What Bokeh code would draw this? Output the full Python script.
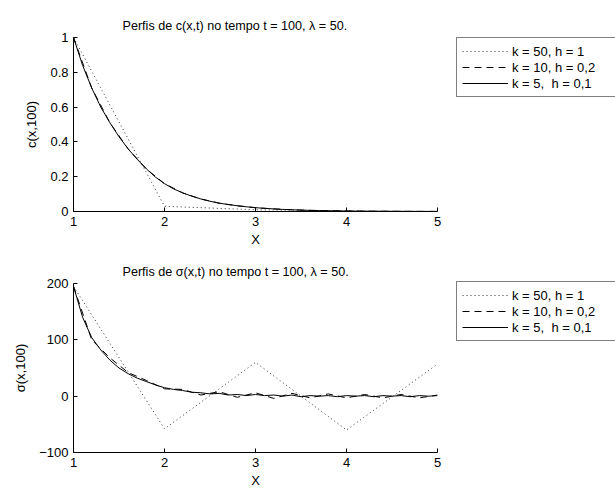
from bokeh.plotting import figure
from bokeh.layouts import column
from bokeh.models import Range1d, FixedTicker, CustomJSTickFormatter, Legend, LegendItem, Title
from bokeh.embed import file_html
from bokeh.resources import INLINE

FONT = "Liberation Sans"

# ---------------- data ----------------
x_h01 = [round(1 + 0.1 * i, 1) for i in range(41)]
x_h02 = [round(1 + 0.2 * i, 1) for i in range(21)]
x_h1 = [1, 2, 3, 4, 5]

c_k5 = [1.0, 0.84, 0.71, 0.60, 0.51, 0.43, 0.36, 0.30, 0.245, 0.198,
        0.16, 0.13, 0.107, 0.088, 0.072, 0.059, 0.048, 0.040, 0.033, 0.027,
        0.022, 0.018, 0.015, 0.012, 0.010, 0.008, 0.0066, 0.0054, 0.0044, 0.0036,
        0.0029, 0.0024, 0.0019, 0.0016, 0.0013, 0.0011, 0.0009, 0.0007, 0.0006, 0.0005,
        0.0004]
c_k10 = [1.0, 0.71, 0.51, 0.36, 0.245, 0.16, 0.107, 0.072, 0.048, 0.033,
         0.022, 0.015, 0.010, 0.0066, 0.0044, 0.0029, 0.0019, 0.0013, 0.0009, 0.0006,
         0.0004]
c_k50 = [1.0, 0.03, 0.01, 0.003, 0.0]

s_k5 = [195, 140, 104, 82, 64, 50, 40, 32, 26, 20,
        15, 12, 10, 7, 6, 4, 5, 2, 3, 1,
        3, 1, 2, 0, 2, -1, 1, 0, 1, -1,
        1, 0, 1, -1, 1, 0, 1, -1, 1, 0,
        1]
s_k10 = [195, 100, 68, 42, 28, 13, 12, 2, 8, -2,
         6, -4, 5, -3, 4, -3, 3, -3, 3, -3,
         2]
s_k50 = [195, -58, 60, -60, 57]

labels = ["k = 50, h = 1", "k = 10, h = 0,2", "k = 5,  h = 0,1"]
x_ticks = [1, 2, 3, 4, 5]
c_ticks = [0, 0.2, 0.4, 0.6, 0.8, 1]
s_ticks = [-100, 0, 100, 200]

fmt = CustomJSTickFormatter(code="""
var v = Math.round(tick*10)/10;
var s = (Math.abs(v) < 1e-9) ? "0" : v.toString();
return s.replace("-", "\\u2212");
""")


def style(p, yticks):
    p.grid.visible = False
    p.outline_line_color = None
    p.background_fill_color = "white"
    p.border_fill_color = "white"
    for ax in (p.xaxis[0], p.yaxis[0]):
        ax.major_tick_in = 4
        ax.major_tick_out = 0
        ax.minor_tick_line_color = None
        ax.axis_line_color = "black"
        ax.major_tick_line_color = "black"
        ax.major_label_text_font = FONT
        ax.major_label_text_font_size = "13px"
        ax.major_label_text_color = "black"
        ax.axis_label_text_font = FONT
        ax.axis_label_text_font_size = "13px"
        ax.axis_label_text_font_style = "normal"
        ax.axis_label_text_color = "black"
        ax.major_label_standoff = 5
        ax.formatter = fmt
    p.xaxis[0].ticker = FixedTicker(ticks=x_ticks)
    p.yaxis[0].ticker = FixedTicker(ticks=yticks)


def make(ttl, ylab, yr, yticks, xs, ys, fh, bt, bb, leg_y):
    p = figure(frame_width=364, frame_height=fh, min_border_left=73, min_border_right=178,
               min_border_top=bt, min_border_bottom=bb,
               x_range=Range1d(1, 5), y_range=Range1d(*yr),
               output_backend="svg", toolbar_location=None, title=None)
    style(p, yticks)
    p.xaxis[0].axis_label = "X"
    p.yaxis[0].axis_label = ylab
    p.xaxis[0].major_label_standoff = 5
    p.xaxis[0].axis_label_standoff = 3
    p.yaxis[0].axis_label_standoff = 8
    t = Title(text=ttl, align="left", offset=49, text_font=FONT, text_font_size="12.6px",
              text_font_style="normal", text_color="black", standoff=10)
    p.add_layout(t, "above")
    r1 = p.line(xs[0], ys[0], line_color="#333333", line_width=1, line_dash="1 3")
    r2 = p.line(xs[1], ys[1], line_color="black", line_width=1, line_dash="7 5")
    r3 = p.line(xs[2], ys[2], line_color="black", line_width=1)
    leg = Legend(items=[LegendItem(label=labels[0], renderers=[r1]),
                        LegendItem(label=labels[1], renderers=[r2]),
                        LegendItem(label=labels[2], renderers=[r3])],
                 location=(19, leg_y), margin=0, padding=5, spacing=0,
                 glyph_width=46, glyph_height=16, label_height=16, label_width=108,
                 label_standoff=4, label_text_font=FONT, label_text_font_size="13px",
                 label_text_color="black", border_line_color="black", border_line_width=1,
                 background_fill_color="white", background_fill_alpha=1.0)
    p.add_layout(leg, "right")
    return p


p1 = make("Perfis de c(x,t) no tempo t = 100, \u03bb = 50.", "c(x,100)", (0, 1), c_ticks,
          [x_h1, x_h02, x_h01], [c_k50, c_k10, c_k5], 174, 37, 40, 114)
p2 = make("Perfis de \u03c3(x,t) no tempo t = 100, \u03bb = 50.", "\u03c3(x,100)", (-100, 200), s_ticks,
          [x_h1, x_h02, x_h01], [s_k50, s_k10, s_k5], 169, 32, 42, 111)

layout = column(p1, p2, spacing=0)
open("out.html", "w").write(file_html(layout, INLINE))
